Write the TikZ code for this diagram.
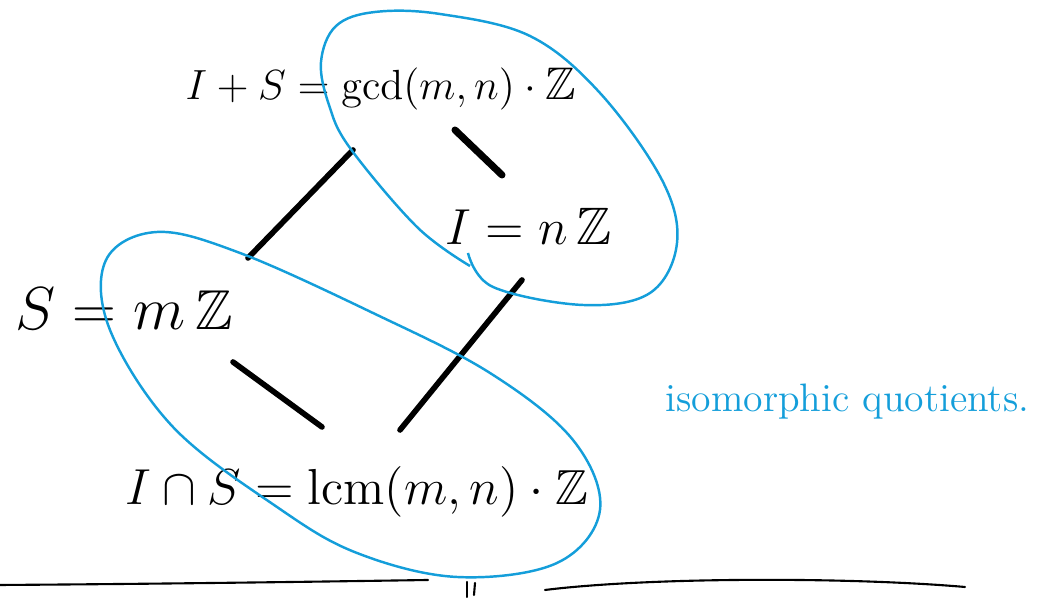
\documentclass[tikz,border=0pt]{standalone}
\usepackage{amssymb}
\usetikzlibrary{positioning}
\definecolor{inkblue}{RGB}{20,158,218}

\begin{document}
\begin{tikzpicture}[x=0.1mm, y=-0.1mm,
    lbl/.style={font=\fontsize{13}{15}\selectfont, inner sep=0pt, anchor=base west},
    edge/.style={line width=1.6pt, line cap=round},
    loop/.style={inkblue, line width=0.7pt},
    rule/.style={line width=0.6pt, line cap=round}]
  \useasboundingbox (0,0) rectangle (1037,598);

  % Lattice of ideals
  \node[lbl] (top) at (185,100) {$I+S = \gcd(m,n)\cdot\mathbb{Z}$};
  \node[lbl, font=\fontsize{15}{17}\selectfont] (inode) at (445,245) {$I = n\,\mathbb{Z}$};
  \node[lbl, font=\fontsize{16}{18}\selectfont] (smod) at (15,330) {$S = m\,\mathbb{Z}$};
  \node[lbl, font=\fontsize{14}{16}\selectfont] (bot) at (125,505) {$I\cap S = \mathrm{lcm}(m,n)\cdot\mathbb{Z}$};

  % Inclusions
  \draw[edge] ([shift={(168,50)}]top.base west) -- ([shift={(233,-72)}]smod.base west);
  \draw[edge, line width=2pt] ([shift={(270,30)}]top.base west) -- ([shift={(57,-70)}]inode.base west);
  \draw[edge] ([shift={(218,32)}]smod.base west) -- ([shift={(197,-78)}]bot.base west);
  \draw[edge] ([shift={(77,35)}]inode.base west) -- ([shift={(275,-75)}]bot.base west);

  % Loops round the quotients
  \draw[loop] plot[smooth, tension=0.6] coordinates {(468,253) (493,287) (583,305)
    (650,293) (677,243) (662,180) (600,93) (530,36) (440,14) (375,12) (336,26) (321,62)
    (329,105) (350,148) (417,227) (470,266)};
  \draw[loop] plot[smooth cycle, tension=0.6] coordinates {(157,232) (240,253) (373,313)
    (490,373) (573,440) (600,510) (557,563) (457,577) (357,553) (277,507) (173,427)
    (110,330) (106,260)};

  % Note
  \node[lbl, inkblue, font=\fontsize{11.3}{13}\selectfont] (note) at (665,412) {isomorphic quotients.};

  % Bottom rule
  \draw[rule] (0,585) .. controls (150,584) and (300,582) .. (428,580);
  \draw[rule] (545,590) .. controls (650,577) and (850,577) .. (965,587);
  \draw[rule] (467,582) -- (467,597);
  \draw[rule] (475,583) -- (474,595);
\end{tikzpicture}
\end{document}
